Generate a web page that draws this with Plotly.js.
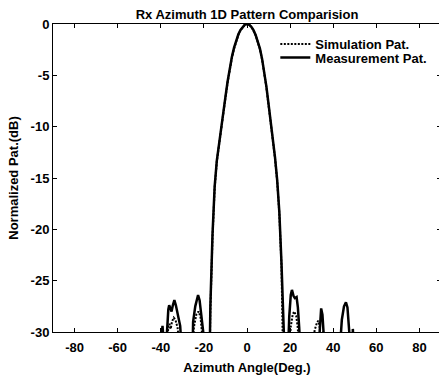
<!DOCTYPE html>
<html>
<head>
<meta charset="utf-8">
<script src="https://cdn.plot.ly/plotly-3.0.1.min.js"></script>
<style>
html, body { margin: 0; padding: 0; overflow: hidden; background: #fff; }
#chart { width: 442px; height: 377px; }
</style>
</head>
<body>
<div id="chart"></div>
<script>
// Measurement pattern (solid line), angle in degrees and normalized level in dB
const measAngle = [-90, -40.2, -39.8, -39.2, -38.6, -38.2, -37.8, -37.4, -37.0, -36.5, -36.1, -35.5, -35.0, -34.4, -33.7, -33.0, -32.0, -31.0, -30.5, -30.0,
  -26.0, -25.3, -25.0, -24.0, -23.2, -22.7, -22.0, -21.0, -20.3, -20.0, -19.5,
  -17.8, -17.3, -17.0, -16.0, -15.0, -14.0, -13.0, -12.0, -11.0, -10.0, -9.0, -8.0, -7.0, -6.0, -5.0, -4.0, -3.0, -2.0, -1.0,
  0, 1, 2, 3, 4, 5, 6, 7, 8, 9, 10, 11, 12, 13, 14, 15, 16, 16.5, 16.8, 17.2,
  18.7, 19.2, 19.6, 20.3, 20.85, 21.6, 22.2, 23.0, 23.6, 24.2, 24.6, 25.2,
  32.8, 33.4, 33.8, 34.4, 35.0, 35.5, 35.8, 36.3,
  42.8, 43.3, 44.0, 45.0, 45.9, 46.6, 47.3, 47.8, 48.3, 48.6, 48.8, 49.1, 49.4, 49.7, 90];
const measDb = [-40, -40, -31, -29.4, -31, -40, -40, -31, -29, -27.8, -27.4, -27.8, -28.0, -27.4, -26.9, -27.4, -28.4, -29.4, -31, -40,
  -40, -31, -29, -27.5, -26.6, -26.4, -26.9, -28.5, -30, -31, -40,
  -40, -31, -27.5, -20.5, -15.8, -13.3, -11.6, -10.1, -8.5, -7.1, -5.6, -4.3, -3.2, -2.3, -1.6, -1.0, -0.57, -0.25, -0.06,
  0, -0.07, -0.27, -0.6, -1.07, -1.67, -2.4, -3.4, -4.6, -6.1, -7.8, -9.4, -11.1, -13.0, -15.2, -18.3, -23.3, -27, -31, -40,
  -40, -31, -28.5, -26.4, -25.9, -26.5, -26.7, -26.6, -27.6, -29.5, -31, -40,
  -40, -31, -29, -27.7, -28.3, -30, -31, -40,
  -40, -31, -28.8, -27.5, -27.1, -27.6, -29.5, -31, -40, -40, -31, -29.7, -31, -40, -40];

// Simulation pattern (dotted line)
const simAngle = [-90, -37.4, -37.0, -36.5, -36.0, -35.4, -34.8, -34.0, -33.2, -32.2, -31.5, -31.0,
  -25.8, -25.2, -24.6, -23.5, -22.5, -21.6, -21.0, -20.7, -20.2,
  -17.7, -17.2, -17.0, -16.0, -15.0, -14.0, -13.0, -12.0, -11.0, -10.0, -9.0, -8.0, -7.0, -6.0, -5.0, -4.0, -3.0, -2.0, -1.0,
  0, 1, 2, 3, 4, 5, 6, 7, 8, 9, 10, 11, 12, 13, 14, 15, 16, 16.5, 16.9, 17.3,
  19.3, 19.8, 20.3, 21.2, 21.9, 22.8, 23.5, 24.0, 24.5,
  30.3, 30.8, 31.4, 32.3, 33.0, 33.7, 34.3, 34.6, 34.8, 35.0, 35.3, 35.7, 36.0, 90];
const simDb = [-40, -40, -31, -29.5, -29.2, -29.7, -29.0, -28.6, -28.8, -29.6, -31, -40,
  -40, -31, -29.5, -28.3, -28.0, -28.5, -29.8, -31, -40,
  -40, -31, -28, -20.8, -16.0, -13.4, -11.7, -10.2, -8.6, -7.2, -5.7, -4.4, -3.3, -2.4, -1.65, -1.05, -0.6, -0.27, -0.07,
  0, -0.07, -0.28, -0.62, -1.1, -1.72, -2.45, -3.45, -4.65, -6.2, -7.9, -9.5, -11.2, -13.1, -15.3, -18.5, -23.6, -27.3, -31, -40,
  -40, -31, -29.5, -28.3, -28.0, -28.4, -29.5, -31, -40,
  -40, -31, -29.8, -29.2, -28.9, -29.5, -31, -40, -40, -31, -29.9, -31, -40, -40];

const xTicks = [-80, -60, -40, -20, 0, 20, 40, 60, 80];
const yTicks = [-30, -25, -20, -15, -10, -5, 0];

const FONT = 'Liberation Sans, Arial, sans-serif';

const traces = [
  {
    x: measAngle, y: measDb, type: 'scatter', mode: 'lines',
    name: 'Measurement Pat.', legend: 'legend2',
    line: { color: '#000', width: 2.5 }
  },
  {
    x: simAngle, y: simDb, type: 'scatter', mode: 'lines',
    name: 'Simulation Pat.', legend: 'legend',
    line: { color: '#000', width: 2, dash: '2px,1.5px' }
  }
];

const axisCommon = {
  showline: true, linecolor: '#000', linewidth: 1, mirror: 'ticks',
  ticks: 'inside', ticklen: 4, tickwidth: 1, tickcolor: '#000',
  showgrid: false, zeroline: false,
  tickfont: { family: FONT, size: 13, color: '#000', weight: 'bold' }
};

const layout = {
  width: 442, height: 377,
  margin: { l: 53, r: 1, t: 24, b: 45, pad: 0 },
  paper_bgcolor: '#fff', plot_bgcolor: '#fff',
  font: { family: FONT, size: 13, color: '#000', weight: 'bold' },
  title: {
    text: 'Rx Azimuth 1D Pattern Comparision',
    font: { family: FONT, size: 13, color: '#000', weight: 'bold' },
    x: 0.5, xref: 'paper', xanchor: 'center',
    y: 1 - 14 / 377, yref: 'container', yanchor: 'middle'
  },
  xaxis: Object.assign({}, axisCommon, {
    range: [-90, 90], tickvals: xTicks, ticktext: xTicks.map(String),
    ticklabelstandoff: 3,
    title: { text: 'Azimuth Angle(Deg.)', font: { family: FONT, size: 13, color: '#000', weight: 'bold' }, standoff: 9 }
  }),
  yaxis: Object.assign({}, axisCommon, {
    range: [-30, 0], tickvals: yTicks, ticktext: yTicks.map(String),
    title: { text: 'Normalized Pat.(dB)', font: { family: FONT, size: 13, color: '#000', weight: 'bold' }, standoff: 9 }
  }),
  showlegend: true,
  legend: {
    x: 0.573, y: 0.935, xanchor: 'left', yanchor: 'middle',
    bgcolor: 'rgba(0,0,0,0)', borderwidth: 0,
    font: { family: FONT, size: 13, color: '#000', weight: 'bold' }
  },
  legend2: {
    x: 0.573, y: 0.891, xanchor: 'left', yanchor: 'middle',
    bgcolor: 'rgba(0,0,0,0)', borderwidth: 0,
    font: { family: FONT, size: 13, color: '#000', weight: 'bold' }
  }
};

Plotly.newPlot('chart', traces, layout, { displayModeBar: false, staticPlot: true });
</script>
</body>
</html>
